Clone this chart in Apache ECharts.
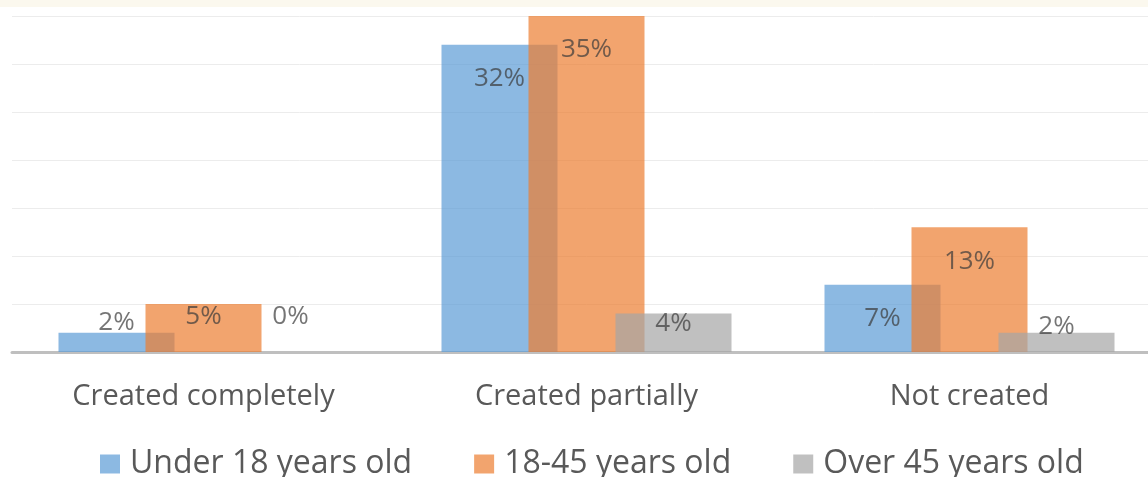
<!DOCTYPE html>
<html>
<head>
<meta charset="utf-8">
<title>Created by age group</title>
<script src="https://cdn.jsdelivr.net/npm/echarts@6/dist/echarts.min.js"></script>
<style>
  html, body { margin: 0; padding: 0; background: #ffffff; overflow: hidden; }
  /* plot runs slightly past the right edge of the window */
  #chart { width: 1162px; height: 477px; }
</style>
</head>
<body>
<div id="chart"></div>
<script>
// Categories and shares (percent) per age group
const categories = ['Created completely', 'Created partially', 'Not created'];
const seriesNames = ['Under 18 years old', '18-45 years old', 'Over 45 years old'];
const under18 = [2, 32, 7];
const age18to45 = [5, 35, 13];
const over45 = [0, 4, 2];
const yTicks = [0, 5, 10, 15, 20, 25, 30, 35];

const colors = ['#5B9BD5', '#ED7D31', '#A5A5A5'];
const font = '"Open Sans", "Noto Sans", sans-serif';

// Short bars carry their label just above the bar; key is "series-category"
const shortBarLift = { '0-0': 16, '1-0': 22, '2-0': 22, '2-1': 15, '2-2': 12 };

function buildSeries(name, values, sIdx) {
  return {
    name: name,
    type: 'bar',
    barWidth: 116,
    barGap: '-25%',
    itemStyle: { color: colors[sIdx], opacity: 0.7 },
    data: values.map(function (v, cIdx) {
      const key = sIdx + '-' + cIdx;
      const label = v >= 7
        ? { position: 'insideTop', distance: 21 }
        : { position: 'insideBottom', distance: shortBarLift[key] || 15 };
      return { value: v, label: label };
    }),
    label: {
      show: true,
      formatter: '{c}%',
      color: '#3a3a3a',
      fontFamily: font,
      fontSize: 26
    }
  };
}

const chart = echarts.init(document.getElementById('chart'), null, { renderer: 'canvas' });
chart.setOption({
  animation: false,
  backgroundColor: '#ffffff',
  graphic: [{
    type: 'rect',
    shape: { x: 0, y: 0, width: 1162, height: 7 },
    style: { fill: '#fbf8ee' },
    silent: true
  }],
  grid: { left: 12, top: 16, right: 1, height: 336, containLabel: false },
  legend: {
    data: seriesNames,
    left: 95,
    top: 443,
    itemWidth: 20,
    itemHeight: 19,
    itemGap: 62,
    icon: 'rect',
    textStyle: { color: '#595959', fontFamily: font, fontSize: 32, padding: [0, 0, 0, 5] }
  },
  xAxis: {
    type: 'category',
    data: categories,
    axisLine: { lineStyle: { color: '#bfbfbf', width: 3 } },
    axisTick: { show: false },
    axisLabel: { color: '#595959', fontFamily: font, fontSize: 29, margin: 30 }
  },
  yAxis: {
    type: 'value',
    min: yTicks[0],
    max: yTicks[yTicks.length - 1],
    interval: yTicks[1] - yTicks[0],
    axisLabel: { show: false },
    axisLine: { show: false },
    axisTick: { show: false },
    splitLine: { lineStyle: { color: '#ececec', width: 1 } }
  },
  series: [
    buildSeries(seriesNames[0], under18, 0),
    buildSeries(seriesNames[1], age18to45, 1),
    buildSeries(seriesNames[2], over45, 2)
  ]
});
</script>
</body>
</html>
